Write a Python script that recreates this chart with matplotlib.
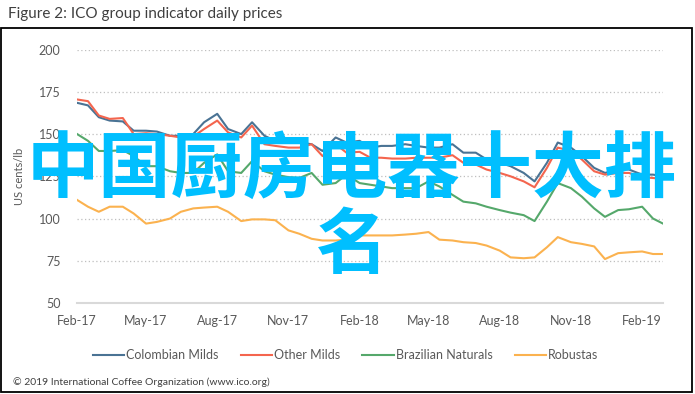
import pandas as pd
import matplotlib.pyplot as plt
import matplotlib.dates as mdates
from matplotlib.patches import Rectangle

# ===== data (US cents/lb, read off the chart roughly twice a month) =====
dates = list(pd.date_range("2017-02-01", "2019-02-15", freq="SMS")) + [pd.Timestamp("2019-02-28")]

colombian_milds = [168.5, 167, 160, 158, 157.5, 152, 152, 151.5, 149, 149,
                   150, 157, 162, 153, 150, 157, 149, 146, 145, 145,
                   144, 140, 148, 145, 146, 142, 143, 143, 144, 143,
                   142, 142, 144, 139, 139, 135, 133, 131, 127, 122,
                   133, 145, 142, 137, 130, 127, 129, 129, 126, 126, 125]
other_milds = [170.5, 169.5, 161, 159, 159.5, 150, 150.5, 150, 149, 148,
               148.5, 153, 158, 151, 148, 155, 144, 143, 142, 142,
               144, 137, 144, 139, 139.5, 136, 136, 135.5, 135.5, 136,
               136, 136, 137.5, 133, 132, 129, 127, 125, 122, 118.5,
               130, 142, 140, 135, 128, 126, 127, 127, 124.5, 124, 123.5]
brazilian_naturals = [150, 146, 140, 140, 140.5, 137, 131, 131, 128, 127,
                      127, 133, 138, 128, 127, 134, 128, 126, 124.5, 124,
                      127, 120, 121, 126, 121, 120, 119, 118, 118, 118,
                      122, 119, 114, 110, 109, 107, 105, 103.5, 102, 98.5,
                      110, 121, 118, 113, 106, 101, 105, 105.5, 107, 100, 97]
robustas = [111, 107, 104, 107, 107, 103, 97, 98, 100, 104,
            106, 106.5, 107, 104, 98.5, 99.5, 99.5, 99, 93, 91,
            88, 87, 87, 87.5, 90, 90, 90, 90, 90.5, 91,
            92, 87.5, 87, 86, 85.5, 84, 81, 77, 76.5, 77,
            83, 89, 86, 85, 83.5, 76, 79.5, 80, 80.5, 79, 79]

series = [("Colombian Milds", colombian_milds, "#4A7394"),
          ("Other Milds", other_milds, "#F4654E"),
          ("Brazilian Naturals", brazilian_naturals, "#55A86B"),
          ("Robustas", robustas, "#FBB24F")]

y_ticks = [50, 75, 100, 125, 150, 175, 200]
x_ticks = pd.date_range("2017-02-01", "2019-02-01", freq="3MS")

# ===== figure =====
plt.rcParams["font.family"] = ["Lato", "DejaVu Sans"]
txt_color = "#595959"

fig = plt.figure(figsize=(6.95, 3.94), dpi=100)
ax = fig.add_axes([0.111, 0.231, 0.843, 0.643])

for name, vals, col in series:
    ax.plot(dates, vals, color=col, lw=1.5, label=name)

ax.set_ylim(50, 200)
ax.set_xlim(pd.Timestamp("2017-02-01"), pd.Timestamp("2019-02-28"))
ax.set_yticks(y_ticks)
ax.set_xticks(x_ticks)
ax.xaxis.set_major_formatter(mdates.DateFormatter("%b-%y"))
ax.grid(axis="y", color="#BFBFBF", linestyle=(0, (1, 2)), lw=0.9)
ax.set_axisbelow(True)
for s in ["top", "right", "left"]:
    ax.spines[s].set_visible(False)
ax.spines["bottom"].set_color("#D9D9D9")
ax.spines["bottom"].set_linewidth(1.5)
ax.tick_params(length=0, labelsize=9, colors=txt_color)
ax.tick_params(axis="y", pad=12)
ax.tick_params(axis="x", pad=9)
ax.set_ylabel("US cents/lb", fontsize=8, color=txt_color, labelpad=10)

fig.legend(loc="center", bbox_to_anchor=(0.497, 0.099), ncol=4, frameon=False,
           fontsize=9, labelcolor=txt_color, handlelength=2.5, handletextpad=0.15,
           columnspacing=1.8)

# frame and captions
fig.patches.append(Rectangle((0.002, 0.005), 0.994, 0.924, transform=fig.transFigure,
                             fill=False, edgecolor="black", lw=1.3))
fig.text(0.012, 0.964, "Figure 2: ICO group indicator daily prices", fontsize=11,
         color="#404040", va="center")
fig.text(0.018, 0.03, "\u00a9 2019 International Coffee Organization (www.ico.org)",
         fontsize=7.5, color="#404040", va="center")

# overlaid watermark text
fig.text(0.506, 0.47, "中国厨房电器十大排\n名", fontsize=52, color="#00BFFF",
         ha="center", va="center", multialignment="center", linespacing=1.02,
         family=["Noto Sans CJK SC", "DejaVu Sans"], weight="bold")

plt.savefig("out.png", dpi=100)
